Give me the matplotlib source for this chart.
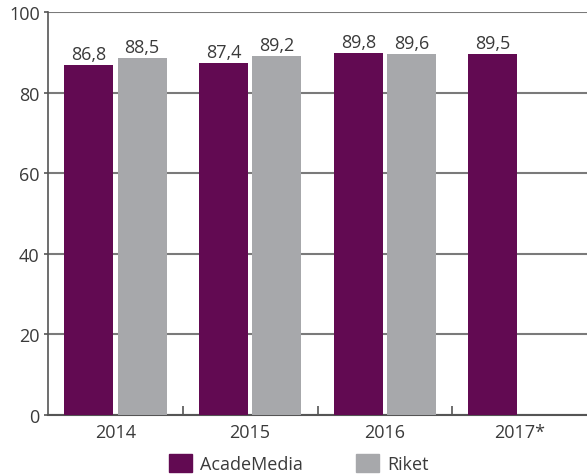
import matplotlib
matplotlib.use("Agg")
import matplotlib.pyplot as plt
import numpy as np
from matplotlib.patches import Patch

years = ["2014", "2015", "2016", "2017*"]
academedia = [86.8, 87.4, 89.8, 89.5]
riket = [88.5, 89.2, 89.6, np.nan]
series_names = ["AcadeMedia", "Riket"]
yticks = [0, 20, 40, 60, 80, 100]

purple = "#620a52"
gray = "#a7a8ab"
txt = "#3a3a3a"
fs = 13

plt.rcParams['font.family'] = ['Open Sans', 'DejaVu Sans']

fig = plt.figure(figsize=(5.87, 4.77), dpi=100)
ax = fig.add_axes([48/587, 61/477, 1 - 48/587, (416-13)/477])

x = np.arange(len(years))
w = 0.363
off = 0.198
ax.bar(x - off, academedia, w, color=purple, zorder=3)
ax.bar(x + off, riket, w, color=gray, zorder=3)

def fmt(v):
    return f"{v:.1f}".replace(".", ",")

for xi, v in zip(x - off, academedia):
    if not np.isnan(v):
        ax.text(xi, v + 0.5, fmt(v), ha="center", va="bottom", fontsize=fs, color=txt)
for xi, v in zip(x + off, riket):
    if not np.isnan(v):
        ax.text(xi, v + 0.5, fmt(v), ha="center", va="bottom", fontsize=fs, color=txt)

ax.set_xlim(-0.5, len(years) - 0.5)
ax.set_ylim(0, 100)
ax.set_yticks(yticks)
ax.set_yticklabels([str(t) for t in yticks], fontsize=fs, color=txt)
ax.set_xticks(x)
ax.set_xticklabels(years, fontsize=fs, color=txt)
ax.tick_params(axis="x", length=0, pad=6)
ax.set_xticks(np.arange(0.5, len(years) - 0.5, 1.0), minor=True)
ax.tick_params(axis="x", which="minor", direction="in", length=6.5, width=1.2, color="#555555")
ax.tick_params(axis="y", length=3, width=1.2, color="#555555", pad=3)

ax.yaxis.grid(True, color="#7a7a7a", linewidth=1.5, zorder=0)
ax.set_axisbelow(True)
for s in ["top", "right"]:
    ax.spines[s].set_visible(False)
ax.spines["left"].set_color("#555555")
ax.spines["left"].set_linewidth(1.2)
ax.spines["bottom"].set_color("#555555")
ax.spines["bottom"].set_linewidth(1.5)

handles = [Patch(color=purple), Patch(color=gray)]
fig.legend(handles, series_names, loc="lower center", bbox_to_anchor=(0.509, -0.028),
           ncol=2, frameon=False, fontsize=fs, handlelength=1.3, handleheight=1.15,
           columnspacing=2.9, handletextpad=0.45, labelcolor=txt)

fig.savefig("out.png", dpi=100)
